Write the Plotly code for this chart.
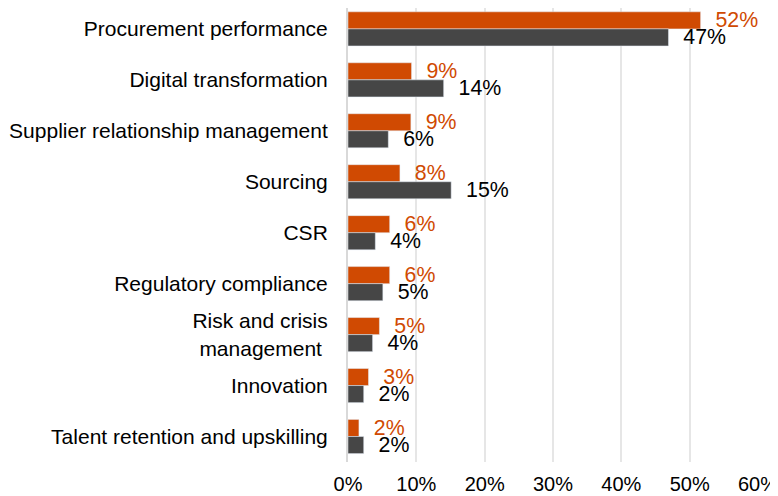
import plotly.graph_objects as go

categories = [
    "Procurement performance",
    "Digital transformation",
    "Supplier relationship management",
    "Sourcing",
    "CSR",
    "Regulatory compliance",
    "Risk and crisis<br>management\u00a0",
    "Innovation",
    "Talent retention and upskilling",
]
series_a = [0.516, 0.093, 0.092, 0.076, 0.061, 0.061, 0.046, 0.030, 0.016]
series_b = [0.469, 0.140, 0.059, 0.151, 0.040, 0.051, 0.036, 0.023, 0.023]
x_ticks = [0, 0.1, 0.2, 0.3, 0.4, 0.5, 0.6]
x_tick_labels = ["0%", "10%", "20%", "30%", "40%", "50%", "60%"]

ORANGE = "#D04A02"
GREY = "#464646"
FONT = "Liberation Sans, Arial, sans-serif"
LBL = 21.33

fig = go.Figure()
fig.add_trace(go.Bar(
    y=categories, x=series_a, orientation="h", name="Series A",
    marker=dict(color=ORANGE),
    texttemplate="\u00a0\u00a0%{x:.0%}", textposition="outside",
    textfont=dict(color=ORANGE, size=LBL, family=FONT),
    constraintext="none", cliponaxis=False,
))
fig.add_trace(go.Bar(
    y=categories, x=series_b, orientation="h", name="Series B",
    marker=dict(color=GREY),
    texttemplate="\u00a0\u00a0%{x:.0%}", textposition="outside",
    textfont=dict(color="#000000", size=LBL, family=FONT),
    constraintext="none", cliponaxis=False,
))

# page body adds an 8px offset; figure size/margins compensate for it
fig.update_layout(
    width=770, height=488,
    margin=dict(l=340, r=20, t=0, b=33.5),
    paper_bgcolor="white", plot_bgcolor="white",
    barmode="group", bargap=0.33, bargroupgap=0,
    showlegend=False,
    font=dict(family=FONT, size=20, color="#000000"),
    xaxis=dict(
        range=[0, 0.6], tickvals=x_ticks, ticktext=x_tick_labels,
        showgrid=True, gridcolor="#E6E6E6", gridwidth=2,
        zeroline=False, showline=False, ticks="",
        automargin=False, ticklabeloverflow="allow", ticklabelstandoff=8,
        tickfont=dict(size=20, family=FONT, color="#000000"),
    ),
    yaxis=dict(
        range=[8.5, -0.41], showgrid=False, zeroline=False,
        showline=True, linecolor="#D9D9D9", linewidth=2,
        ticks="", ticklabelstandoff=14, automargin=False,
        tickfont=dict(size=21, family=FONT, color="#000000"),
    ),
)

fig.write_html("out.html")
